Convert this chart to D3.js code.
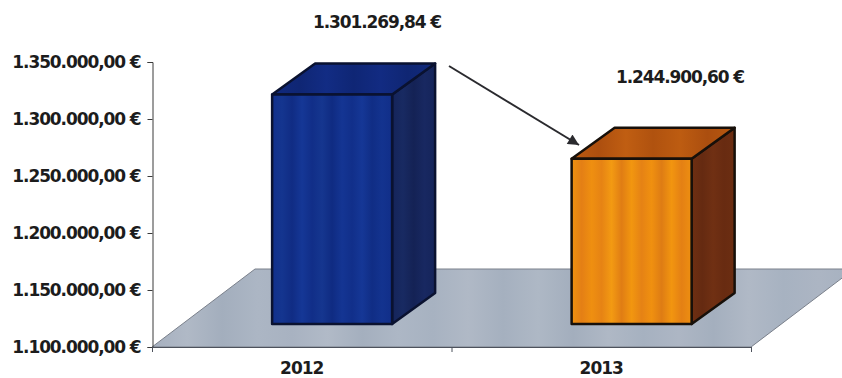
<!DOCTYPE html>
<html>
<head>
<meta charset="utf-8">
<script src="https://cdn.jsdelivr.net/npm/d3@7"></script>
<style>
html,body{margin:0;padding:0;background:#fff;overflow:hidden}
svg{display:block}
text{font-family:"DejaVu Sans",Verdana,sans-serif;font-weight:700;fill:#1c1c1c}
</style>
</head>
<body>
<svg id="chart" width="842" height="378"></svg>
<script>
// Yearly totals in euro
const years = ["2012", "2013"];
const totals = [1301269.84, 1244900.60];
const yTicks = [1100000, 1150000, 1200000, 1250000, 1300000, 1350000];
const sideBands = [
  ["#15245a", "#182a62", "#142255", "#182861", "#15245a"],
  ["#6e2f12", "#652a11", "#703013", "#682b11", "#6c2e12"]
];
const topBands = [
  ["#10297e", "#0f2674", "#122c84", "#0f2675", "#122b82", "#0f2673", "#112a7e"],
  ["#bb5a10", "#ad4f0f", "#c05e12", "#b0520f", "#bd5c11", "#ab4e0f", "#b8580f"]
];
const faceBands = [
  ["#11308c", "#14358f", "#102c84", "#153796", "#112e88", "#15368f", "#0f2b82", "#143593", "#112f8a", "#153796", "#102d85", "#13338f", "#112e88"],
  ["#f0920f", "#e47f15", "#ef8f10", "#e68314", "#f39a12", "#e07d14", "#f2960f", "#e58215", "#f0900f", "#de7c14", "#f2950f", "#e48014", "#ee8f10"]
];
const floorBands = ["#a6b0bf", "#b0b9c6", "#a3aebd", "#acb6c4", "#a8b2c1", "#b1bac7", "#a4afbe", "#adb7c5", "#a7b2c1", "#b0b9c6", "#a5b0bf", "#aeb8c5", "#a3aebd", "#afb8c5", "#a6b1c0", "#adb6c4", "#a4afbe", "#b0b9c6", "#a7b2c1", "#acb5c3", "#a6b1c0"];

const svg = d3.select("#chart");
const locale = d3.formatLocale({decimal: ",", thousands: ".", grouping: [3], currency: ["", " €"]});
const euro = v => locale.format(",.2f")(v) + " €";

const y = d3.scaleLinear().domain([1100000, 1350000]).range([347, 62]);
const x = d3.scaleBand().domain(years).range([152, 751]);

// Perspective offsets of the floor plate and the bar solids
const floorDepth = {dx: 103, dy: -78};
const barLift = 23;
const barShift = barLift * floorDepth.dx / -floorDepth.dy;
const barDepth = {dx: 43, dy: -31};
const barWidth = 120;

const defs = svg.append("defs");
function stripes(id, colors) {
  const g = defs.append("linearGradient").attr("id", id);
  colors.forEach((c, i) => g.append("stop")
    .attr("offset", i / (colors.length - 1)).attr("stop-color", c));
}
faceBands.forEach((b, i) => stripes("face" + i, b));
topBands.forEach((b, i) => stripes("top" + i, b));
sideBands.forEach((b, i) => stripes("side" + i, b));
stripes("floorBands", floorBands);

// Floor plate
const x0 = x.range()[0], x1 = x.range()[1], yBase = y.range()[0];
svg.append("polygon")
  .attr("points", [[x0, yBase], [x1, yBase], [x1 + floorDepth.dx, yBase + floorDepth.dy], [x0 + floorDepth.dx, yBase + floorDepth.dy]].join(" "))
  .attr("fill", "url(#floorBands)")
  .attr("stroke", "#7a808b").attr("stroke-width", 1);

// Axes
const yAxis = d3.axisLeft(y).tickValues(yTicks).tickFormat(euro).tickSize(5).tickPadding(7);
const gy = svg.append("g").attr("transform", "translate(152.5,0)").call(yAxis);
gy.selectAll("path,line").attr("stroke", "#3a3a3a");
gy.selectAll("text").attr("font-size", 17).attr("letter-spacing", -1.1)
  .attr("font-family", "'DejaVu Sans',Verdana,sans-serif").attr("fill", "#1c1c1c");

const xAxisLine = svg.append("g");
xAxisLine.append("line").attr("x1", x0).attr("x2", x1).attr("y1", yBase + .5).attr("y2", yBase + .5).attr("stroke", "#4d525c");
xAxisLine.selectAll("line.tick").data([x0, (x0 + x1) / 2, x1]).join("line").attr("class", "tick")
  .attr("x1", d => d + .5).attr("x2", d => d + .5).attr("y1", yBase).attr("y2", yBase + 5).attr("stroke", "#4d525c");
svg.selectAll("text.year").data(years).join("text").attr("class", "year")
  .attr("x", d => x(d) + x.bandwidth() / 2).attr("y", 374)
  .attr("text-anchor", "middle").attr("font-size", 17).attr("letter-spacing", -1)
  .text(d => d);

// Bar solids: front face, top and right side
const bars = svg.selectAll("g.bar").data(years.map((yr, i) => ({yr, v: totals[i], i}))).join("g").attr("class", "bar");
bars.each(function (d) {
  const g = d3.select(this);
  const left = x(d.yr) + x.bandwidth() / 2 + barShift - barWidth / 2;
  const right = left + barWidth;
  const top = y(d.v) - barLift;
  const bottom = yBase - barLift;
  const {dx, dy} = barDepth;
  const edge = d.i === 0 ? "#0a1230" : "#17100a";
  const common = sel => sel.attr("stroke", edge).attr("stroke-width", 2.5).attr("stroke-linejoin", "round");
  g.append("polygon").attr("points", [[right, top], [right + dx, top + dy], [right + dx, bottom + dy], [right, bottom]].join(" "))
    .attr("fill", `url(#side${d.i})`).call(common);
  g.append("polygon").attr("points", [[left, top], [left + dx, top + dy], [right + dx, top + dy], [right, top]].join(" "))
    .attr("fill", `url(#top${d.i})`).call(common);
  g.append("rect").attr("x", left).attr("y", top).attr("width", barWidth).attr("height", bottom - top)
    .attr("fill", `url(#face${d.i})`).call(common);
});

// Value labels above the bars
const labelAnchors = [[377, 28], [680, 83]];
svg.selectAll("text.value").data(totals).join("text").attr("class", "value")
  .attr("x", (d, i) => labelAnchors[i][0]).attr("y", (d, i) => labelAnchors[i][1])
  .attr("text-anchor", "middle").attr("font-size", 17).attr("letter-spacing", -1.1)
  .text(euro);

// Arrow showing the drop between the two years
defs.append("marker").attr("id", "head").attr("viewBox", "0 0 10 10")
  .attr("refX", 10).attr("refY", 5).attr("markerWidth", 13).attr("markerHeight", 11)
  .attr("markerUnits", "userSpaceOnUse").attr("orient", "auto")
  .append("path").attr("d", "M0,0L10,5L0,10Z").attr("fill", "#2a2a2e");
svg.append("line").attr("x1", 449).attr("y1", 66).attr("x2", 579).attr("y2", 145)
  .attr("stroke", "#2a2a2e").attr("stroke-width", 2).attr("marker-end", "url(#head)");
</script>
</body>
</html>
